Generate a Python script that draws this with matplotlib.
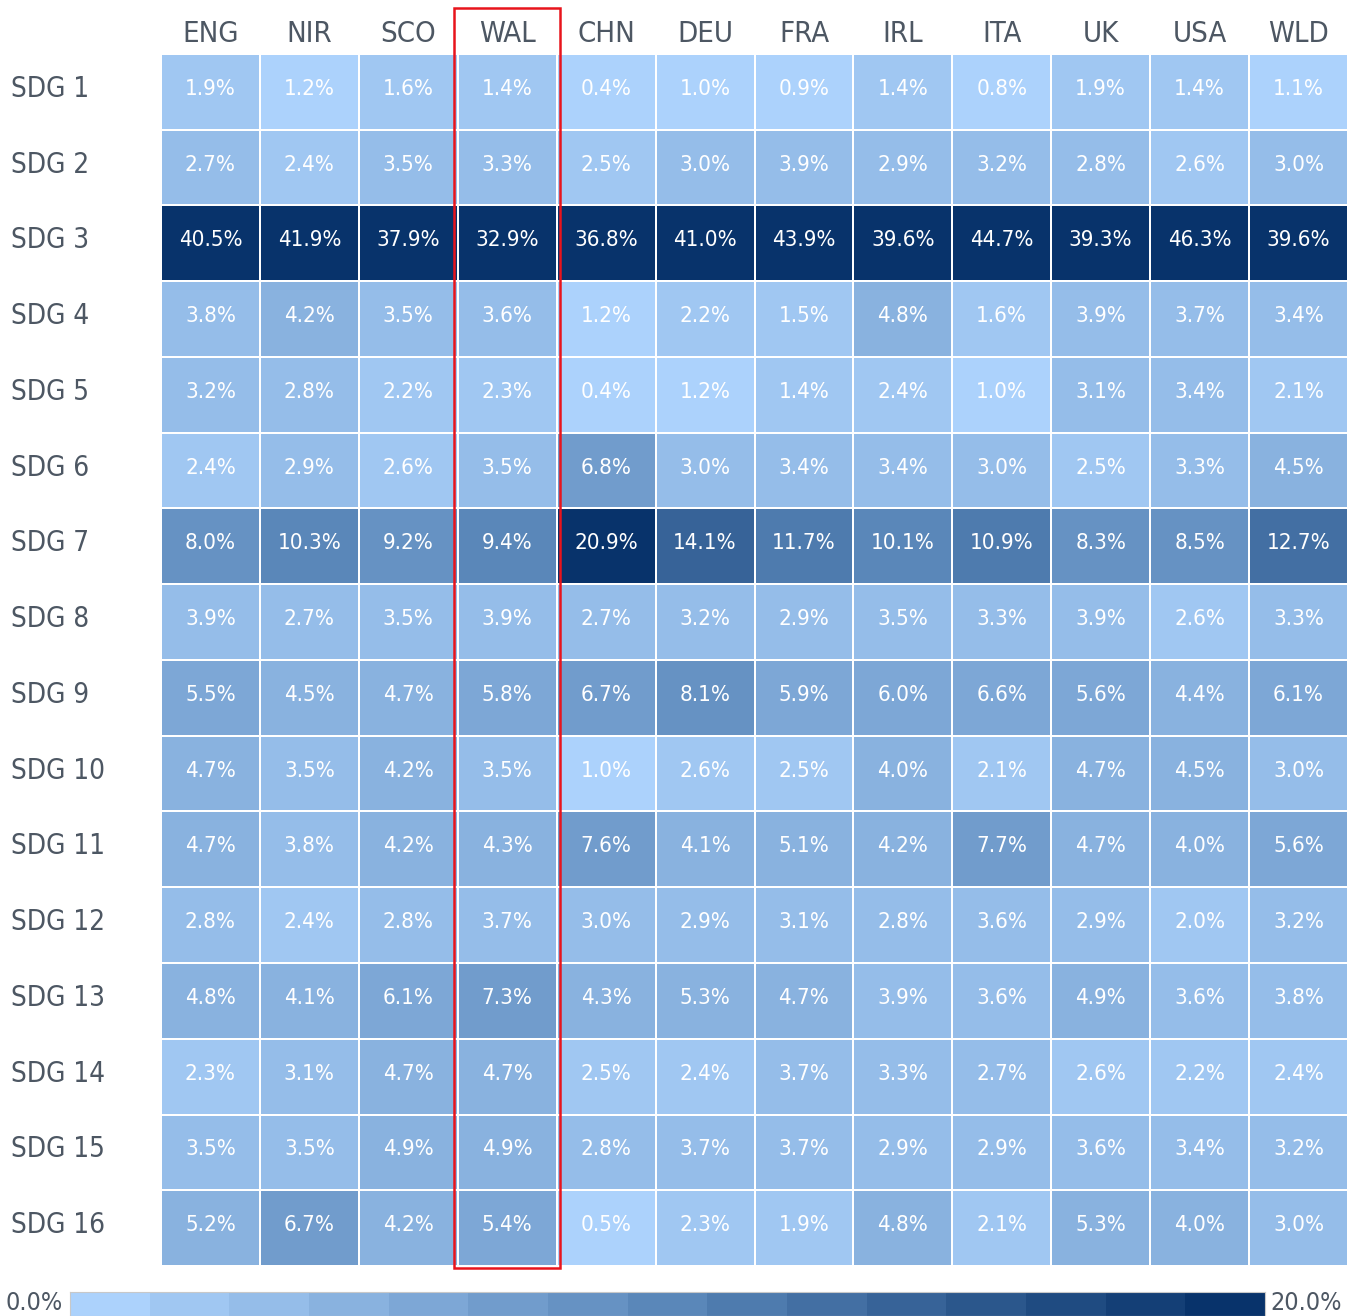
import matplotlib
matplotlib.use("Agg")
import matplotlib.pyplot as plt
import matplotlib.transforms as mtransforms
import numpy as np
from matplotlib.colors import LinearSegmentedColormap, BoundaryNorm
from matplotlib.patches import Rectangle

# data
countries = ["ENG", "NIR", "SCO", "WAL", "CHN", "DEU", "FRA", "IRL", "ITA", "UK", "USA", "WLD"]
sdgs = ["SDG %d" % i for i in range(1, 17)]
values = [
    [1.9, 1.2, 1.6, 1.4, 0.4, 1.0, 0.9, 1.4, 0.8, 1.9, 1.4, 1.1],
    [2.7, 2.4, 3.5, 3.3, 2.5, 3.0, 3.9, 2.9, 3.2, 2.8, 2.6, 3.0],
    [40.5, 41.9, 37.9, 32.9, 36.8, 41.0, 43.9, 39.6, 44.7, 39.3, 46.3, 39.6],
    [3.8, 4.2, 3.5, 3.6, 1.2, 2.2, 1.5, 4.8, 1.6, 3.9, 3.7, 3.4],
    [3.2, 2.8, 2.2, 2.3, 0.4, 1.2, 1.4, 2.4, 1.0, 3.1, 3.4, 2.1],
    [2.4, 2.9, 2.6, 3.5, 6.8, 3.0, 3.4, 3.4, 3.0, 2.5, 3.3, 4.5],
    [8.0, 10.3, 9.2, 9.4, 20.9, 14.1, 11.7, 10.1, 10.9, 8.3, 8.5, 12.7],
    [3.9, 2.7, 3.5, 3.9, 2.7, 3.2, 2.9, 3.5, 3.3, 3.9, 2.6, 3.3],
    [5.5, 4.5, 4.7, 5.8, 6.7, 8.1, 5.9, 6.0, 6.6, 5.6, 4.4, 6.1],
    [4.7, 3.5, 4.2, 3.5, 1.0, 2.6, 2.5, 4.0, 2.1, 4.7, 4.5, 3.0],
    [4.7, 3.8, 4.2, 4.3, 7.6, 4.1, 5.1, 4.2, 7.7, 4.7, 4.0, 5.6],
    [2.8, 2.4, 2.8, 3.7, 3.0, 2.9, 3.1, 2.8, 3.6, 2.9, 2.0, 3.2],
    [4.8, 4.1, 6.1, 7.3, 4.3, 5.3, 4.7, 3.9, 3.6, 4.9, 3.6, 3.8],
    [2.3, 3.1, 4.7, 4.7, 2.5, 2.4, 3.7, 3.3, 2.7, 2.6, 2.2, 2.4],
    [3.5, 3.5, 4.9, 4.9, 2.8, 3.7, 3.7, 2.9, 2.9, 3.6, 3.4, 3.2],
    [5.2, 6.7, 4.2, 5.4, 0.5, 2.3, 1.9, 4.8, 2.1, 5.3, 4.0, 3.0],
]
highlight = "WAL"

data = np.array(values)
nbins = 15
bounds = np.linspace(0, 20, nbins + 1)
cmap = LinearSegmentedColormap.from_list("sdg", ["#acd2fc", "#5a87b9", "#08336b"], N=nbins)
norm = BoundaryNorm(bounds, nbins, clip=True)

plt.rcParams["font.family"] = "DejaVu Sans"
plt.rcParams["font.stretch"] = "condensed"
label_col = "#4d5763"
W, H = 1355, 1316
fig = plt.figure(figsize=(W / 100, H / 100), dpi=100)

# main grid
x0, x1, y0, y1 = 161, 1348, 54, 1266
ax = fig.add_axes([x0 / W, 1 - y1 / H, (x1 - x0) / W, (y1 - y0) / H])
ax.pcolormesh(np.clip(data, 0, 19.99), cmap=cmap, norm=norm, edgecolors="white", linewidth=1.2)
ax.set_xlim(0, len(countries))
ax.set_ylim(len(sdgs), 0)
ax.set_xticks(np.arange(len(countries)) + 0.5)
ax.set_xticklabels(countries, fontsize=21, color=label_col, stretch="condensed")
ax.xaxis.tick_top()
ax.set_yticks([])
ax.tick_params(length=0, pad=4)
for s in ax.spines.values():
    s.set_visible(False)

# row labels, left aligned near the figure edge
trans = mtransforms.blended_transform_factory(fig.transFigure, ax.transData)
for i, name in enumerate(sdgs):
    ax.text(11 / W, i + 0.46, name, transform=trans, ha="left", va="center",
            fontsize=20, color=label_col, stretch="condensed")

for i in range(len(sdgs)):
    for j in range(len(countries)):
        ax.text(j + 0.5, i + 0.46, "%.1f%%" % data[i, j], ha="center", va="center",
                color="white", fontsize=16, stretch="condensed")

# highlight box round one column
k = countries.index(highlight)
ax.add_patch(Rectangle((k - 0.04, len(sdgs) + 0.03), 1.07, -(len(sdgs) + 0.64),
                       fill=False, edgecolor="#e8141c", linewidth=1.8, clip_on=False))

# colour bar
cx0, cx1, cy0, cy1 = 70, 1265, 1292, 1316
cax = fig.add_axes([cx0 / W, 1 - cy1 / H, (cx1 - cx0) / W, (cy1 - cy0) / H])
steps = (bounds[:-1] + bounds[1:]) / 2
cax.pcolormesh(bounds, [0, 1], steps[np.newaxis, :], cmap=cmap, norm=norm)
cax.set_xlim(0, 20)
cax.set_xticks([])
cax.set_yticks([])
for s in cax.spines.values():
    s.set_color("#c8c8c8")
fig.text(cx0 / W - 0.005, 1 - 1303 / H, "0.0%", ha="right", va="center", fontsize=18,
         color=label_col, stretch="condensed")
fig.text(cx1 / W + 0.004, 1 - 1303 / H, "20.0%", ha="left", va="center", fontsize=18,
         color=label_col, stretch="condensed")

fig.savefig("out.png", dpi=100)
